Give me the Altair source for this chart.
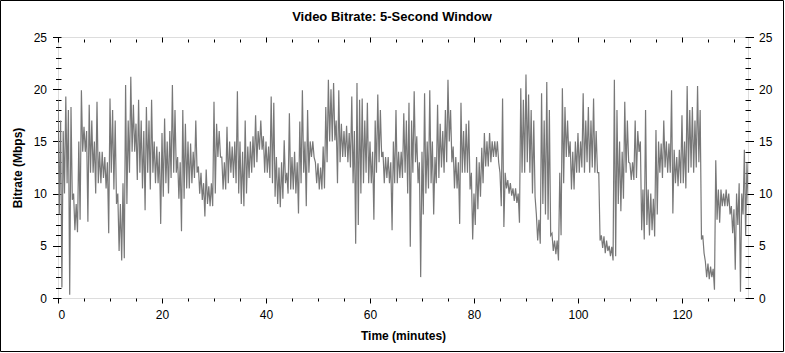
import altair as alt
import pandas as pd

# Bitrate envelope (Mbps): for each half-minute bin,
# the upper and the lower value the trace reaches.
hi_0_25 = [19, 17, 16, 19.3, 18, 18.3, 10, 9, 15, 19.9,
           16.4, 16, 18.5, 17, 15, 18.8, 14, 14, 13.5, 13,
           19.1, 18, 17, 10, 9, 11, 20.4, 17, 21.2, 18.5,
           16.7, 19, 17, 16, 18.3, 17, 19, 15, 14.5, 14,
           15.8, 17.2, 15, 16, 20.4, 18, 13.5, 13, 18, 16.7]
lo_0_25 = [8, 1.0, 10, 11, 0.3, 9.4, 6.5, 6.3, 7.5, 14,
           14, 7.3, 12, 12, 10, 11, 11, 11.5, 10.5, 6.2,
           12, 10.4, 9, 4.5, 3.6, 3.8, 9, 12, 14, 14,
           11.3, 12, 10.5, 8.4, 12, 10.4, 12, 11, 11, 7.1,
           9.7, 11, 10, 11.5, 12, 12, 9.5, 6.4, 9.5, 10.5]

hi_25_50 = [15, 14.8, 14, 17, 12.6, 12, 11, 12.3, 10.7, 11,
            18.8, 16.7, 16, 13.5, 13, 16.4, 15, 14.5, 15, 19.8,
            15, 14, 17, 14.5, 15, 15.5, 17.5, 16, 17, 15.5,
            15, 14.5, 19.3, 18.7, 13.5, 12.5, 13, 15.1, 12, 17.7,
            13.5, 14, 13, 16.9, 19.9, 15, 18, 15, 15, 13]
lo_25_50 = [10.5, 11, 11.5, 12, 10, 9.4, 7.8, 9, 8.8, 8.8,
            10, 13.5, 13.5, 10.4, 10.4, 11, 12, 11.5, 11, 10,
            9, 8.8, 10, 11.5, 12, 12.5, 13, 14.2, 14.2, 12,
            12, 11.5, 11, 9.7, 9, 8.7, 9.5, 11, 10, 10.4,
            10.4, 10, 8.1, 11, 12, 8.8, 12, 13.5, 13.5, 11]

hi_50_75 = [12.9, 12.5, 14.5, 18.3, 20.9, 20, 20.6, 17, 19.9, 16.7,
            16, 16.5, 15.8, 19.3, 16, 20.6, 19, 19.1, 17, 18.7,
            15, 14, 17, 19.5, 18, 14, 13.5, 13.5, 13, 15,
            18, 14, 14, 17.7, 17, 18.7, 17, 19.8, 15.5, 13,
            14, 19.6, 15, 19.9, 15, 13.5, 18.5, 16.7, 16, 18]
lo_50_75 = [10.4, 10.4, 10.5, 13, 15, 15, 15.1, 11, 13, 13.5,
            13.5, 13, 12.5, 11, 5.2, 7, 10, 11, 12, 11,
            11, 7.5, 12, 13, 13.5, 11, 11.5, 11, 6.5, 11,
            11, 11.5, 11.5, 12, 10, 4.9, 12, 13, 11, 2.0,
            8, 10, 10.5, 11, 8.0, 11, 11.5, 12.5, 12, 13]

hi_75_100 = [20.9, 18, 14.5, 13.5, 13, 18.7, 16, 16.7, 17, 12,
             10, 13.5, 13, 14.4, 15.8, 15, 15.8, 15, 15, 15,
             12, 19.1, 12, 11.3, 11, 10.5, 10.5, 10, 20.1, 19,
             21.4, 19.5, 18, 17, 8, 7.5, 19.6, 17, 20.7, 18,
             6.2, 5.5, 5.5, 12, 20.1, 18.3, 17, 15, 14, 15]
lo_75_100 = [15, 13, 10.5, 10.5, 7.1, 12, 12, 12, 10.4, 5.6,
             7, 8.5, 9.7, 11, 12.6, 12.6, 13, 13.5, 13.5, 13,
             8.8, 6.8, 10.5, 10, 9.8, 9.3, 9.1, 7.2, 12, 12,
             13, 12, 10, 9.7, 5.5, 5.2, 9, 8, 7.5, 6,
             4.5, 4.2, 3.6, 6, 11, 13.5, 13.5, 10.4, 10.4, 12]

hi_100_end = [15.8, 15, 19.6, 17, 18.3, 17, 19.1, 16, 12, 6,
              5.9, 5.5, 5, 4.9, 20.9, 18, 15, 14, 18.8, 17,
              12.9, 13, 17, 16, 15, 10.4, 18, 10.4, 10, 9.5,
              16.1, 15, 14.8, 17, 15, 14.8, 19.9, 14.2, 13.5, 14.2,
              17.5, 15, 20.3, 18, 18.3, 17, 20.3, 18, 6, 3.5,
              3.3, 3, 2.8, 13.2, 10.4, 10.4, 10, 10.4, 10, 8.8,
              8.5, 10, 11, 10, 14.2, 13]
lo_100_end = [12, 12.5, 12, 13, 12, 12.5, 12, 12, 5.5, 4.8,
              4.3, 4.5, 4, 3.6, 4, 9, 8.3, 9.5, 12, 13,
              11.3, 11.3, 11.5, 14, 6.5, 5.6, 7, 6, 6.5, 5.9,
              8, 12, 11.5, 12.5, 12, 12, 8.1, 11, 10.7, 11,
              11, 10.5, 12, 12.5, 12, 12.5, 13, 5.6, 4.3, 2,
              1.8, 2, 0.8, 7.5, 7.2, 8.8, 8.8, 8.8, 8, 6.2,
              2.7, 7, 0.6, 8, 6, 9]

hi = hi_0_25 + hi_25_50 + hi_50_75 + hi_75_100 + hi_100_end
lo = lo_0_25 + lo_25_50 + lo_50_75 + lo_75_100 + lo_100_end
BIN = 0.5  # minutes per bin

rows = []
for i, (h, l) in enumerate(zip(hi, lo)):
    rows.append({"t": i * BIN, "mbps": h})
    rows.append({"t": i * BIN + BIN / 2, "mbps": l})
df = pd.DataFrame(rows)

x_ticks = list(range(0, 135, 5))
y_ticks = list(range(0, 26))
X_MAX = 132.7

FONT = "Arial, Liberation Sans, sans-serif"
W, H = 690, 261

x_scale = alt.Scale(domain=[0, X_MAX], nice=False, zero=False)
y_scale = alt.Scale(domain=[0, 25], nice=False)

common = dict(grid=False, domain=False, tickColor="black", tickWidth=1,
              labelFont=FONT, labelFontSize=12, labelColor="black",
              titleFont=FONT, titleFontSize=12, titleFontWeight="bold", titleColor="black")

x_major = "datum.value % 20 === 0"
y_major = "datum.value % 5 === 0"

x_bottom = alt.Axis(orient="bottom", values=x_ticks, title="Time (minutes)",
                    labelExpr=f"{x_major} ? datum.label : ''",
                    tickSize={"condition": {"test": x_major, "value": 5}, "value": 3},
                    labelPadding=6, titlePadding=10, offset=0, **common)
x_top = alt.Axis(orient="top", values=x_ticks, title=None, labels=False,
                 tickSize={"condition": {"test": x_major, "value": 5}, "value": 3},
                 offset=-5, **common)
y_left = alt.Axis(orient="left", values=y_ticks, title="Bitrate (Mbps)",
                  labelExpr=f"{y_major} ? datum.label : ''",
                  tickSize={"condition": {"test": y_major, "value": 8.5}, "value": 5.5},
                  labelPadding=6, titlePadding=9, offset=-3, **common)
y_right = alt.Axis(orient="right", values=y_ticks, title=None,
                   labelExpr=f"{y_major} ? datum.label : ''",
                   tickSize={"condition": {"test": y_major, "value": 8.5}, "value": 5.5},
                   labelPadding=5, offset=-3, **common)

line = alt.Chart(df).mark_line(color="#787878", strokeWidth=1.2, clip=True).encode(
    x=alt.X("t:Q", scale=x_scale, axis=x_bottom),
    y=alt.Y("mbps:Q", scale=y_scale, axis=y_left),
)
ghost = alt.Chart(df).mark_line(strokeOpacity=0).encode(
    x=alt.X("t:Q", scale=x_scale, axis=x_top),
    y=alt.Y("mbps:Q", scale=y_scale, axis=y_right),
)

one = alt.Data(values=[{"k": 1}])
border = alt.Chart(one).mark_rect(fill=None, stroke="black", strokeWidth=1).encode(
    x=alt.value(-57.5), x2=alt.value(725.5), y=alt.value(-36.5), y2=alt.value(314.5)
)
title = alt.Chart(one).mark_text(
    text="Video Bitrate: 5-Second Window", font=FONT, fontSize=13, fontWeight="bold",
    color="black", align="center", baseline="middle"
).encode(x=alt.value(334), y=alt.value(-20))

chart = alt.layer(line, ghost, border, title).resolve_scale(
    x="independent", y="independent"
).properties(
    width=W, height=H,
    autosize=alt.AutoSizeParams(type="none"),
    padding={"left": 58, "top": 37, "right": 37, "bottom": 55},
).configure_view(stroke="black", strokeWidth=1).configure(background="white")

chart.save("out.html", embed_options={"renderer": "svg", "actions": False})
